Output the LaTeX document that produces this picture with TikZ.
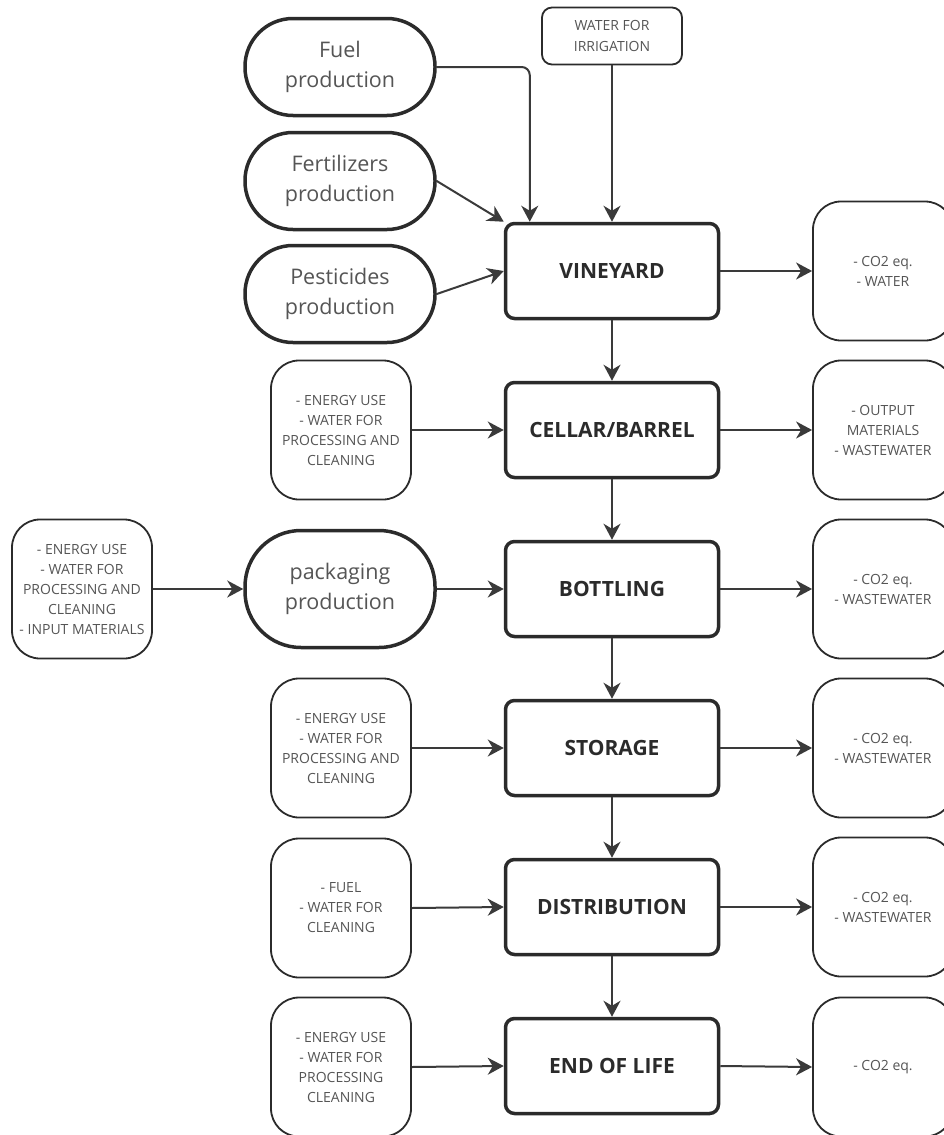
\documentclass[tikz,border=0pt]{standalone}
\usepackage{fontspec}
\setmainfont{Open Sans}
\usetikzlibrary{arrows.meta}
\definecolor{ink}{HTML}{2B2B2B}
\definecolor{line}{HTML}{3A3A3A}
\definecolor{txt}{HTML}{555555}
\begin{document}
\begin{tikzpicture}[x=1pt,y=-1pt,
  mainbox/.style={draw=ink, line width=3.5pt, rounded corners=9pt, minimum width=213pt, minimum height=95pt, font=\bfseries\fontsize{21}{24}\selectfont, text=ink},
  sidebox/.style={draw=ink, line width=1.8pt, rounded corners=28pt, minimum width=140pt, minimum height=139pt, inner sep=2pt, align=center, font=\fontsize{14}{20}\selectfont, text=txt},
  stadbox/.style={draw=ink, line width=3.5pt, rounded corners=48pt, minimum width=190pt, minimum height=97pt, align=center, font=\fontsize{21.5}{30}\selectfont, text=txt},
  arr/.style={draw=line, line width=2pt, -{Stealth[length=16pt,width=17pt,inset=5pt]}}
]
\useasboundingbox (0,0) rectangle (944,1135);
\clip (0,0) rectangle (944,1135);

% main column
\node[mainbox] (vine) at (612,271) {VINEYARD};
\node[mainbox] (cell) at (612,430) {CELLAR/BARREL};
\node[mainbox] (bott) at (612,589) {BOTTLING};
\node[mainbox] (stor) at (612,748) {STORAGE};
\node[mainbox] (dist) at (612,907) {DISTRIBUTION};
\node[mainbox] (eol)  at (612,1066) {END OF LIFE};

% right outputs
\node[sidebox] (rv) at (883,271) {- CO2 eq.\\- WATER};
\node[sidebox] (rc) at (883,430) {- OUTPUT\\MATERIALS\\- WASTEWATER};
\node[sidebox] (rb) at (883,589) {- CO2 eq.\\- WASTEWATER};
\node[sidebox] (rs) at (883,748) {- CO2 eq.\\- WASTEWATER};
\node[sidebox] (rd) at (883,907) {- CO2 eq.\\- WASTEWATER};
\node[sidebox] (re) at (883,1067) {- CO2 eq.};

% left inputs
\node[sidebox] (lc) at (341,430) {- ENERGY USE\\- WATER FOR\\PROCESSING AND\\CLEANING};
\node[sidebox] (ls) at (341,748) {- ENERGY USE\\- WATER FOR\\PROCESSING AND\\CLEANING};
\node[sidebox] (ld) at (341,908) {- FUEL\\- WATER FOR\\CLEANING};
\node[sidebox] (le) at (341,1067) {- ENERGY USE\\- WATER FOR\\PROCESSING\\CLEANING};
\node[sidebox] (lp) at (82,589) {- ENERGY USE\\- WATER FOR\\PROCESSING AND\\CLEANING\\- INPUT MATERIALS};

% stadiums
\node[stadbox] (fuel) at (340,67) {Fuel\\production};
\node[stadbox] (fert) at (340,181) {Fertilizers\\production};
\node[stadbox] (pest) at (340,294) {Pesticides\\production};
\node[stadbox, minimum height=117pt, rounded corners=56pt] (pack) at (340,589) {packaging\\production};

% water for irrigation
\node[draw=ink, line width=1.8pt, rounded corners=10pt, minimum width=140pt, minimum height=57pt, inner sep=2pt, align=center, font=\fontsize{14}{21}\selectfont, text=txt] (water) at (612,36) {WATER FOR\\IRRIGATION};

% connectors
\draw[arr, rounded corners=8pt] (fuel.east) -| ([xshift=26pt]vine.north west);
\draw[arr] (water.south) -- (vine.north);
\draw[arr] (fert.east) -- (vine.north west);
\draw[arr] (pest.east) -- (vine.west);

\draw[arr] (vine.south) -- (cell.north);
\draw[arr] (cell.south) -- (bott.north);
\draw[arr] (bott.south) -- (stor.north);
\draw[arr] (stor.south) -- (dist.north);
\draw[arr] (dist.south) -- (eol.north);

\draw[arr] (vine.east) -- (rv.west);
\draw[arr] (cell.east) -- (rc.west);
\draw[arr] (bott.east) -- (rb.west);
\draw[arr] (stor.east) -- (rs.west);
\draw[arr] (dist.east) -- (rd.west);
\draw[arr] (eol.east) -- (re.west);

\draw[arr] (lc.east) -- (cell.west);
\draw[arr] (ls.east) -- (stor.west);
\draw[arr] (ld.east) -- (dist.west);
\draw[arr] (le.east) -- (eol.west);
\draw[arr] (lp.east) -- (pack.west);
\draw[arr] (pack.east) -- (bott.west);
\end{tikzpicture}
\end{document}
